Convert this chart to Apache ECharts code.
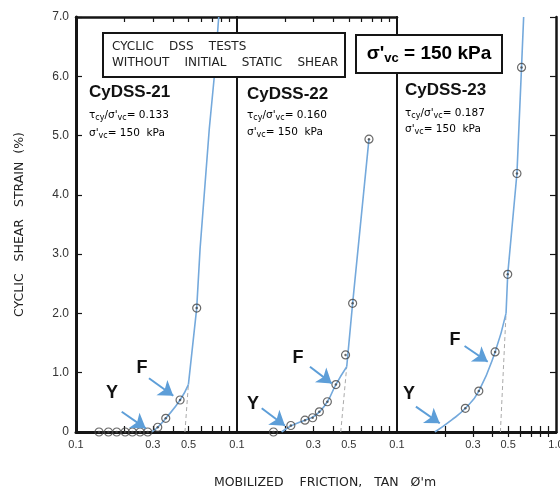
<!DOCTYPE html>
<html>
<head>
<meta charset="utf-8">
<script src="https://cdn.jsdelivr.net/npm/echarts@6/dist/echarts.min.js"></script>
<style>
  html, body { margin: 0; padding: 0; background: #fff; }
  #chart { width: 560px; height: 488px; }
</style>
</head>
<body>
<div id="chart"></div>
<script>
// test names and cyclic stress ratios
const testNames = ['CyDSS-21', 'CyDSS-22', 'CyDSS-23']
const stressRatios = ['0.133', '0.160', '0.187']

// tick / label values of the log axis (tan phi'm) and strain axis
const xTickValues = [0.2, 0.3, 0.4, 0.5, 0.6, 0.7, 0.8, 0.9]
const xLabelValues = [0.1, 0.3, 0.5]
const xLabelValuesLast = [0.1, 0.3, 0.5, 1]
const yMax = 7

// measured points [tan phi'm, cyclic shear strain %]
const points21 = [[0.139, 0], [0.159, 0], [0.179, 0], [0.202, 0], [0.224, 0], [0.25, 0], [0.279, 0],
  [0.322, 0.08], [0.361, 0.23], [0.443, 0.54], [0.562, 2.09]]
const points22 = [[0.169, 0], [0.217, 0.11], [0.266, 0.2], [0.297, 0.24], [0.327, 0.34],
  [0.367, 0.51], [0.415, 0.8], [0.477, 1.3], [0.528, 2.17], [0.668, 4.94]]
const points23 = [[0.269, 0.4], [0.327, 0.69], [0.414, 1.35], [0.497, 2.66], [0.568, 4.36], [0.607, 6.15]]

// hand drawn curves: smooth lower part up to the kink, straight upper part
const lower21 = [[0.295, 0], [0.322, 0.08], [0.361, 0.23], [0.443, 0.54], [0.499, 0.8]]
const upper21 = [[0.499, 0.8], [0.562, 2.09], [0.59, 3.1], [0.673, 5.12], [0.723, 6.0], [0.77, 7.0]]
const lower22 = [[0.19, 0], [0.217, 0.1], [0.266, 0.2], [0.297, 0.25], [0.327, 0.34],
  [0.367, 0.51], [0.415, 0.8], [0.485, 1.1]]
const upper22 = [[0.485, 1.1], [0.528, 2.17], [0.668, 4.94]]
const lower23 = [[0.173, 0], [0.22, 0.2], [0.269, 0.4], [0.327, 0.69], [0.414, 1.35], [0.485, 2.0]]
const upper23 = [[0.485, 2.0], [0.497, 2.66], [0.568, 4.36], [0.607, 6.15], [0.626, 7.0]]

// dashed construction lines (failure)
const guide21 = [[0.475, 0], [0.499, 0.8]]
const guide22 = [[0.445, 0], [0.485, 1.1]]
const guide23 = [[0.447, 0], [0.485, 2.0]]

// Y (yield) and F (failure) arrows: [from, to]
const arrows21 = [[[0.1923, 0.342], [0.271, 0.062]], [[0.284, 0.906], [0.402, 0.612]]]
const arrows22 = [[[0.1427, 0.40], [0.1995, 0.106]], [[0.2858, 1.10], [0.391, 0.82]]]
const arrows23 = [[[0.1315, 0.427], [0.1858, 0.147]], [[0.266, 1.45], [0.372, 1.185]]]

const lineBlue = '#74a9dc'
const arrowBlue = '#5d9ed8'
const ink = '#151515'
const fontLabel = '"Liberation Sans", Arial, sans-serif'
const fontName = '"DejaVu Sans", sans-serif'

const panels = [
  { left: 76, width: 161, points: points21, lower: lower21, upper: upper21, guide: guide21, arrows: arrows21 },
  { left: 237, width: 160, points: points22, lower: lower22, upper: upper22, guide: guide22, arrows: arrows22 },
  { left: 397, width: 159, points: points23, lower: lower23, upper: upper23, guide: guide23, arrows: arrows23 }
]

const chart = echarts.init(document.getElementById('chart'), null, { renderer: 'canvas' })

const grid = panels.map((p) => ({
  left: p.left, width: p.width, top: 17, height: 415, outerBoundsMode: 'none', containLabel: false
}))

function bottomAxis(i) {
  return {
    type: 'log', logBase: 10, min: 0.1, max: 1, gridIndex: i, position: 'bottom',
    axisLine: { lineStyle: { color: ink, width: 3 } },
    axisTick: { inside: true, length: 6, customValues: xTickValues, lineStyle: { color: ink, width: 1.2 } },
    axisLabel: {
      customValues: i === 2 ? xLabelValuesLast : xLabelValues,
      formatter: (v) => v.toFixed(1),
      margin: 7, fontSize: 11, color: '#333', fontFamily: fontLabel
    },
    splitLine: { show: false }, minorSplitLine: { show: false },
    name: i === 1 ? "MOBILIZED    FRICTION,   TAN   Ø'm" : '',
    nameLocation: 'middle', nameGap: 44,
    nameTextStyle: { fontSize: 12.5, color: '#222', fontFamily: fontName, padding: [0, 0, 0, 16] }
  }
}
function topAxis(i) {
  return {
    type: 'log', logBase: 10, min: 0.1, max: 1, gridIndex: i, position: 'top',
    axisLine: { lineStyle: { color: ink, width: 2.5 } },
    axisTick: { inside: true, length: 5, customValues: xTickValues, lineStyle: { color: ink, width: 1.2 } },
    axisLabel: { show: false },
    splitLine: { show: false }
  }
}

const xAxis = [0, 1, 2].map(bottomAxis).concat([0, 1, 2].map(topAxis))
const yAxis = [0, 1, 2].map((i) => ({
  type: 'value', min: 0, max: yMax, interval: 1, gridIndex: i, position: 'left',
  axisLine: { show: true, lineStyle: { color: ink, width: i === 0 ? 3 : 2 } },
  axisTick: { show: i === 0, inside: true, length: 6, lineStyle: { color: ink, width: 1.2 } },
  axisLabel: {
    show: i === 0, margin: 7, fontSize: 12, color: '#333', fontFamily: fontLabel,
    formatter: (v) => (v === 0 ? '0' : v.toFixed(1))
  },
  splitLine: { show: false },
  name: i === 0 ? 'CYCLIC   SHEAR   STRAIN  (%)' : '',
  nameLocation: 'middle', nameGap: 50,
  nameTextStyle: { fontSize: 12.5, color: '#222', fontFamily: fontName }
}))
yAxis.push({
  type: 'value', min: 0, max: yMax, interval: 1, gridIndex: 2, position: 'right',
  axisLine: { show: true, lineStyle: { color: ink, width: 2.5 } },
  axisTick: { show: true, inside: true, length: 6, lineStyle: { color: ink, width: 1.2 } },
  axisLabel: { show: false },
  splitLine: { show: false }
})

const series = []
panels.forEach((p, i) => {
  series.push({
    type: 'line', xAxisIndex: i, yAxisIndex: i, data: p.lower, smooth: 0.5,
    showSymbol: false, lineStyle: { color: lineBlue, width: 1.6 }, z: 2, silent: true,
    markLine: {
      silent: true, symbol: ['none', 'arrow'], symbolSize: 14, animation: false,
      label: { show: false },
      lineStyle: { color: arrowBlue, width: 2, type: 'solid' },
      data: p.arrows.map((a) => [{ coord: a[0] }, { coord: a[1] }])
    }
  })
  series.push({
    type: 'line', xAxisIndex: i, yAxisIndex: i, data: p.upper, smooth: false,
    showSymbol: false, lineStyle: { color: lineBlue, width: 1.6 }, z: 2, silent: true
  })
  series.push({
    type: 'line', xAxisIndex: i, yAxisIndex: i, data: p.guide, showSymbol: false,
    lineStyle: { color: '#aaa', width: 1, type: [4, 3] }, z: 1, silent: true
  })
  series.push({
    type: 'scatter', xAxisIndex: i, yAxisIndex: i, data: p.points, symbol: 'circle', symbolSize: 8,
    itemStyle: { color: 'rgba(255,255,255,0)', borderColor: '#444', borderWidth: 1.2 }, z: 3, silent: true
  })
  series.push({
    type: 'scatter', xAxisIndex: i, yAxisIndex: i, data: p.points, symbol: 'circle', symbolSize: 2.5,
    itemStyle: { color: '#444' }, z: 3, silent: true
  })
})

// annotation texts
const titlePos = [[89, 92], [247, 94], [405, 90]]
const paramPos = [[89, 115, 133], [247, 115, 132], [405, 113, 129]]
const yLabelPos = [[112, 393], [253, 404], [409, 394]]
const fLabelPos = [[142, 368], [298, 358], [455, 340]]

const smallRich = {
  m: { fontSize: 10.5, lineHeight: 13, fontFamily: fontName, color: '#333' },
  s: { fontSize: 8, lineHeight: 7, verticalAlign: 'bottom', fontFamily: fontName, color: '#333' }
}

const graphic = []
testNames.forEach((name, i) => {
  graphic.push({
    type: 'text', x: titlePos[i][0], y: titlePos[i][1], z: 50,
    style: { text: name, font: 'bold 17px ' + fontLabel, fill: '#111', textVerticalAlign: 'middle' }
  })
  graphic.push({
    type: 'text', x: paramPos[i][0], y: paramPos[i][1], z: 50,
    style: {
      text: '{m|τ}{s|cy}{m|/σ\'}{s|vc}{m|= ' + stressRatios[i] + '}',
      rich: smallRich, textVerticalAlign: 'middle'
    }
  })
  graphic.push({
    type: 'text', x: paramPos[i][0], y: paramPos[i][2], z: 50,
    style: { text: '{m|σ\'}{s|vc}{m|= 150  kPa}', rich: smallRich, textVerticalAlign: 'middle' }
  })
  graphic.push({
    type: 'text', x: yLabelPos[i][0], y: yLabelPos[i][1], z: 50,
    style: { text: 'Y', font: 'bold 18px ' + fontLabel, fill: '#111', textAlign: 'center', textVerticalAlign: 'middle' }
  })
  graphic.push({
    type: 'text', x: fLabelPos[i][0], y: fLabelPos[i][1], z: 50,
    style: { text: 'F', font: 'bold 18px ' + fontLabel, fill: '#111', textAlign: 'center', textVerticalAlign: 'middle' }
  })
})

// header boxes
graphic.push({
  type: 'rect', z: 100, shape: { x: 103, y: 33, width: 242, height: 44 },
  style: { fill: '#fff', stroke: ink, lineWidth: 2 }
})
graphic.push({
  type: 'text', z: 101, x: 112, y: 47,
  style: { text: 'CYCLIC    DSS    TESTS', font: '12px ' + fontName, fill: '#222', textVerticalAlign: 'middle' }
})
graphic.push({
  type: 'text', z: 101, x: 112, y: 63,
  style: { text: 'WITHOUT    INITIAL    STATIC    SHEAR', font: '12px ' + fontName, fill: '#222', textVerticalAlign: 'middle' }
})
graphic.push({
  type: 'rect', z: 100, shape: { x: 356, y: 35, width: 146, height: 38 },
  style: { fill: '#fff', stroke: ink, lineWidth: 2 }
})
graphic.push({
  type: 'text', z: 101, x: 429, y: 54,
  style: {
    text: '{b|σ\'}{s|vc}{b| = 150 kPa}',
    rich: {
      b: { fontSize: 19, fontWeight: 'bold', lineHeight: 22, fontFamily: fontLabel, color: '#111' },
      s: { fontSize: 13, fontWeight: 'bold', lineHeight: 15, verticalAlign: 'bottom', fontFamily: fontLabel, color: '#111' }
    },
    textAlign: 'center', textVerticalAlign: 'middle'
  }
})

chart.setOption({
  animation: false,
  backgroundColor: '#fff',
  grid: grid,
  xAxis: xAxis,
  yAxis: yAxis,
  series: series,
  graphic: graphic
})
</script>
</body>
</html>
